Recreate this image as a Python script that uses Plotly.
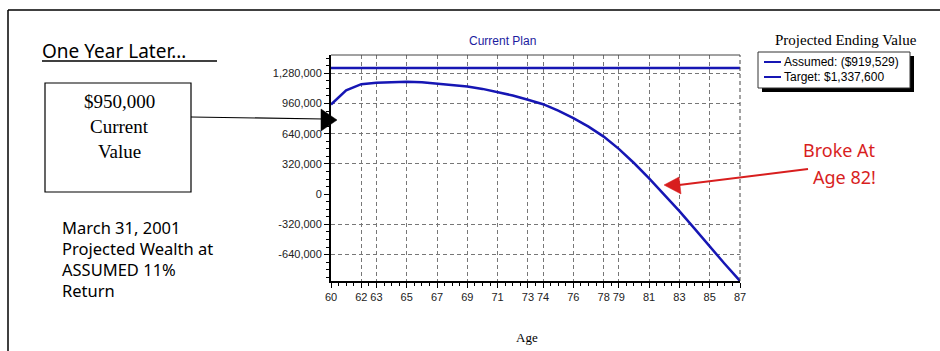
import plotly.graph_objects as go

# ---------------- data ----------------
ages = list(range(60, 88))
assumed = [950000, 1100000, 1165000, 1180000, 1185000, 1190000, 1185000, 1170000,
           1155000, 1140000, 1115000, 1082000, 1045000, 1000000, 953000, 885000,
           805000, 715000, 610000, 480000, 330000, 168000, -5000, -180000,
           -365000, -555000, -740000, -919529]
target = [1337600] * len(ages)

x_tickvals = [60, 62, 63, 65, 67, 69, 71, 73, 74, 76, 78, 79, 81, 83, 85, 87]
y_tickvals = [1280000, 960000, 640000, 320000, 0, -320000, -640000]
y_ticktext = ["1,280,000", "960,000", "640,000", "320,000", "0", "-320,000", "-640,000"]
series_names = ["Assumed: ($919,529)", "Target: $1,337,600"]
note_lines = ["March 31, 2001", "Projected Wealth at", "ASSUMED 11%", "Return"]
box_lines = ["$950,000", "Current", "Value"]
broke_lines = ["Broke At", "Age 82!"]

# ---------------- layout helpers (pixel -> paper) ----------------
W, H = 940, 351
X0, X1 = 331, 740
Y0, Y1 = 55, 281


def px(x):
    return (x - X0) / (X1 - X0)


def py(y):
    return (Y1 - y) / (Y1 - Y0)


BLUE = "#1616b4"
RED = "#d81e1e"
SANS = "Liberation Sans, Arial, sans-serif"
SERIF = "Liberation Serif, Times New Roman, serif"
HUMAN = "Noto Sans, Open Sans, sans-serif"

fig = go.Figure()
fig.add_trace(go.Scatter(x=ages, y=assumed, mode="lines", name=series_names[0],
                         line=dict(color=BLUE, width=2.5), showlegend=False))
fig.add_trace(go.Scatter(x=ages, y=target, mode="lines", name=series_names[1],
                         line=dict(color=BLUE, width=2.5), showlegend=False))

shapes = []
annotations = []


def text(t, x, y, size, family, color="black", xanchor="center", yanchor="middle"):
    annotations.append(dict(text=t, xref="paper", yref="paper", x=px(x), y=py(y),
                            xanchor=xanchor, yanchor=yanchor, showarrow=False,
                            borderpad=0,
                            font=dict(family=family, size=size, color=color)))


# outer frame (top + left)
shapes.append(dict(type="line", xref="paper", yref="paper", x0=px(8), x1=px(945),
                   y0=py(10), y1=py(10), line=dict(color="black", width=1.5)))
shapes.append(dict(type="line", xref="paper", yref="paper", x0=px(8), x1=px(8),
                   y0=py(10), y1=py(360), line=dict(color="black", width=1.5)))

# plot top border
shapes.append(dict(type="line", xref="paper", yref="paper", x0=0, x1=1,
                   y0=1, y1=1, line=dict(color="#444", width=1)))
# right border dashed
shapes.append(dict(type="line", xref="paper", yref="paper", x0=1, x1=1,
                   y0=0, y1=1, line=dict(color="#444", width=1, dash="4px,3px")))

# chart title and x axis title
text("Current Plan", 502, 41, 12, SANS, "#1c1ca0")
text("Age", 527, 337, 13, SERIF)

# legend
text("Projected Ending Value", 846, 40, 15, SERIF)
shapes.append(dict(type="rect", xref="paper", yref="paper", x0=px(762), x1=px(914),
                   y0=py(56), y1=py(92), fillcolor="black", line=dict(width=0)))
shapes.append(dict(type="rect", xref="paper", yref="paper", x0=px(758), x1=px(910),
                   y0=py(52), y1=py(88), fillcolor="white",
                   line=dict(color="#333", width=1)))
for yy, name in [(62, series_names[0]), (77, series_names[1])]:
    shapes.append(dict(type="line", xref="paper", yref="paper", x0=px(764), x1=px(781),
                       y0=py(yy), y1=py(yy), line=dict(color=BLUE, width=2)))
    text(name, 783, yy, 12, SANS, xanchor="left")

# left: heading
text("One Year Later\u2026", 41, 51, 19, HUMAN, xanchor="left")
shapes.append(dict(type="line", xref="paper", yref="paper", x0=px(42), x1=px(217),
                   y0=py(61), y1=py(61), line=dict(color="black", width=1.5)))

# left: value box
shapes.append(dict(type="rect", xref="paper", yref="paper", x0=px(45), x1=px(191),
                   y0=py(83), y1=py(192), line=dict(color="black", width=1.2)))
for yy, t in zip([101, 126, 151], box_lines):
    text(t, 119, yy, 19, SERIF)

# black arrow
shapes.append(dict(type="line", xref="paper", yref="paper", x0=px(191), x1=px(324),
                   y0=py(117), y1=py(119), line=dict(color="black", width=1.2)))
shapes.append(dict(type="path", xref="paper", yref="paper",
                   path=f"M {px(337)},{py(120)} L {px(321)},{py(109)} L {px(321)},{py(131)} Z",
                   fillcolor="black", line=dict(color="black", width=0.5)))

# left: note
for yy, t in zip([227, 248, 269, 290], note_lines):
    text(t, 61, yy, 16.5, HUMAN, xanchor="left")

# red annotation
for yy, t in zip([150, 177], broke_lines):
    text(t, 877, yy, 18, HUMAN, RED, xanchor="right")
shapes.append(dict(type="line", xref="paper", yref="paper", x0=px(808), x1=px(679),
                   y0=py(169), y1=py(185), line=dict(color=RED, width=2)))
shapes.append(dict(type="path", xref="paper", yref="paper",
                   path=f"M {px(664)},{py(185)} L {px(679)},{py(177)} L {px(681)},{py(194)} Z",
                   fillcolor=RED, line=dict(color=RED, width=0.5)))

fig.update_layout(
    width=W, height=H,
    margin=dict(l=X0, r=W - X1, t=Y0, b=H - Y1, pad=0),
    paper_bgcolor="white", plot_bgcolor="white",
    showlegend=False,
    shapes=shapes, annotations=annotations,
    xaxis=dict(range=[60, 87], tickvals=x_tickvals, ticks="outside", ticklen=5,
               tickcolor="black", showline=True, linecolor="black", linewidth=2,
               showgrid=True, gridcolor="#777", gridwidth=1, griddash="4px,3px",
               zeroline=False, tickfont=dict(family=SANS, size=11, color="#222"),
               minor=dict(dtick=0.5, tick0=60, ticks="outside", ticklen=3,
                          tickcolor="black", showgrid=False)),
    yaxis=dict(range=[-919529, 1474000], tickvals=y_tickvals, ticktext=y_ticktext,
               ticks="outside", ticklen=5, tickcolor="black", showline=True,
               linecolor="black", linewidth=2, showgrid=True, gridcolor="#777",
               gridwidth=1, griddash="4px,3px", zeroline=True,
               zerolinecolor="rgba(0,0,0,0)",
               tickfont=dict(family=SANS, size=11, color="#222"),
               minor=dict(dtick=80000, tick0=0, ticks="outside", ticklen=3,
                          tickcolor="black", showgrid=False)),
)

fig.write_html("out.html", config={"displayModeBar": False},
               post_script="document.body.style.margin='0';")
